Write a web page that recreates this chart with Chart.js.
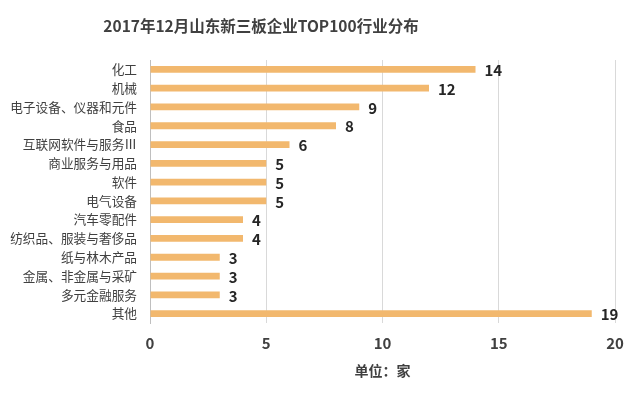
<!DOCTYPE html>
<html>
<head>
<meta charset="utf-8">
<script src="https://cdn.jsdelivr.net/npm/chart.js@4/dist/chart.umd.min.js"></script>
<style>
  html, body { margin: 0; padding: 0; background: #fff; }
  #wrap { width: 640px; height: 399px; }
</style>
</head>
<body>
<div id="wrap"><canvas id="chart"></canvas></div>
<script>
const categories = ['化工', '机械', '电子设备、仪器和元件', '食品', '互联网软件与服务Ⅲ', '商业服务与用品', '软件', '电气设备',
    '汽车零配件', '纺织品、服装与奢侈品', '纸与林木产品', '金属、非金属与采矿', '多元金融服务', '其他'];
const counts = [14, 12, 9, 8, 6, 5, 5, 5, 4, 4, 3, 3, 3, 19];
const xTicks = [0, 5, 10, 15, 20];
const chartTitle = '2017年12月山东新三板企业TOP100行业分布';
const unitLabel = '单位：家';

const FONT = '"Microsoft YaHei", "Noto Sans CJK SC", sans-serif';

// value labels, title and unit text
const extras = {
    id: 'extras',
    afterDatasetsDraw(chart) {
        const ctx = chart.ctx;
        const area = chart.chartArea;
        const meta = chart.getDatasetMeta(0);
        ctx.save();
        ctx.font = 'bold 15px ' + FONT;
        ctx.fillStyle = '#262626';
        ctx.textAlign = 'left';
        ctx.textBaseline = 'middle';
        meta.data.forEach((bar, i) => {
            ctx.fillText(counts[i], bar.x + 9, bar.y + 1);
        });

        ctx.fillStyle = '#404040';
        ctx.textAlign = 'center';
        ctx.font = 'bold 15.5px ' + FONT;
        ctx.fillText(chartTitle, 261, 26);

        ctx.font = 'bold 14px ' + FONT;
        ctx.fillText(unitLabel, (area.left + area.right) / 2, area.bottom + 48);
        ctx.restore();
    }
};

new Chart(document.getElementById('chart'), {
    type: 'bar',
    data: {
        labels: categories,
        datasets: [{
            data: counts,
            backgroundColor: '#F2B86E',
            barPercentage: 0.36,
            categoryPercentage: 1
        }]
    },
    options: {
        indexAxis: 'y',
        responsive: true,
        maintainAspectRatio: false,
        animation: false,
        layout: { padding: { top: 60, right: 25, bottom: 36, left: 0 } },
        plugins: {
            legend: { display: false },
            tooltip: { enabled: false },
            title: { display: false }
        },
        scales: {
            x: {
                min: 0,
                max: 20,
                afterBuildTicks(axis) {
                    axis.ticks = xTicks.map(v => ({ value: v }));
                },
                grid: { color: '#d9d9d9', drawTicks: false },
                border: { display: false },
                ticks: {
                    color: '#404040',
                    padding: 11,
                    font: { family: FONT, size: 15, weight: 'bold' }
                }
            },
            y: {
                afterFit(axis) { axis.width = 150; },
                grid: { display: false, drawTicks: false },
                border: { display: true, color: '#bfbfbf' },
                ticks: {
                    color: '#404040',
                    padding: 13,
                    autoSkip: false,
                    font: { family: FONT, size: 12.7 }
                }
            }
        }
    },
    plugins: [extras]
});
</script>
</body>
</html>
